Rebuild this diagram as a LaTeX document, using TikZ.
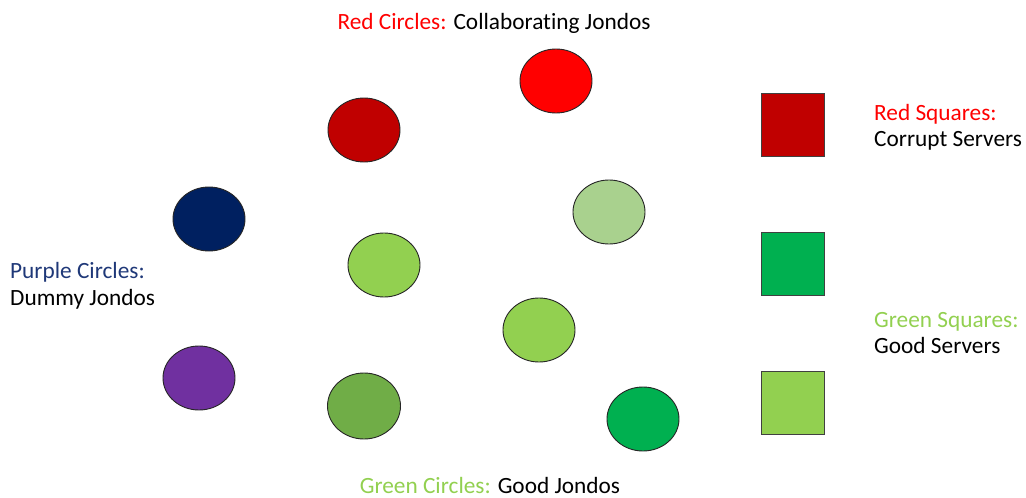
\documentclass[tikz,border=0pt]{standalone}
\usepackage{fontspec}
\setmainfont{Carlito}[Ligatures=NoCommon]
\usepackage{xcolor}
\usepackage{tikz}
\usetikzlibrary{shapes.geometric}

\definecolor{brightred}{RGB}{255,0,0}
\definecolor{darkred}{RGB}{192,0,0}
\definecolor{navy}{RGB}{0,32,96}
\definecolor{paleg}{RGB}{169,209,142}
\definecolor{limeg}{RGB}{146,208,80}
\definecolor{oliveg}{RGB}{112,173,71}
\definecolor{deepg}{RGB}{0,176,80}
\definecolor{purp}{RGB}{112,48,160}
\definecolor{bluetxt}{RGB}{31,56,120}

\begin{document}
\begin{tikzpicture}[x=1pt,y=-1pt,
  jondo/.style={draw=black!85,line width=0.9pt,ellipse,minimum width=72pt,minimum height=64pt,inner sep=0pt},
  server/.style={draw=black!75,line width=0.9pt,rectangle,minimum width=63pt,minimum height=63pt,inner sep=0pt},
  lbl/.style={inner sep=0pt,anchor=base west,font=\fontsize{23.3}{27}\selectfont}]
\useasboundingbox (0,0) rectangle (1026,498);
% circles
\node[jondo,fill=brightred] (c1) at (556,81) {};
\node[jondo,fill=darkred] (c2) at (364,130) {};
\node[jondo,fill=navy] (c3) at (209,219) {};
\node[jondo,fill=paleg] (c4) at (609,212) {};
\node[jondo,fill=limeg] (c5) at (384,265) {};
\node[jondo,fill=limeg] (c6) at (539,330) {};
\node[jondo,fill=purp] (c7) at (199,378) {};
\node[jondo,fill=oliveg,minimum width=73pt,minimum height=66pt] (c8) at (364,406) {};
\node[jondo,fill=deepg] (c9) at (643,419) {};
% squares
\node[server,fill=darkred] (s1) at (792.5,124.5) {};
\node[server,fill=deepg] (s2) at (792.5,264) {};
\node[server,fill=limeg] (s3) at (792.5,402.5) {};
% labels
\node[lbl,anchor=base] (ttop) at (494,29) {\textcolor{brightred}{Red Circles:} Collaborating Jondos};
\node[lbl,text=brightred] (tsq1) at (874,120) {Red Squares:};
\node[lbl] (tsq1b) at ([yshift=-26pt]tsq1.base west) {Corrupt Servers};
\node[lbl,text=bluetxt] (tpur) at (10,278) {Purple Circles:};
\node[lbl] (tpurb) at ([yshift=-27pt]tpur.base west) {Dummy Jondos};
\node[lbl,text=limeg] (tsq2) at (874,327) {Green Squares:};
\node[lbl] (tsq2b) at ([yshift=-26pt]tsq2.base west) {Good Servers};
\node[lbl,anchor=base] (tbot) at (490,493) {\textcolor{limeg}{Green Circles:} Good Jondos};
\end{tikzpicture}
\end{document}
